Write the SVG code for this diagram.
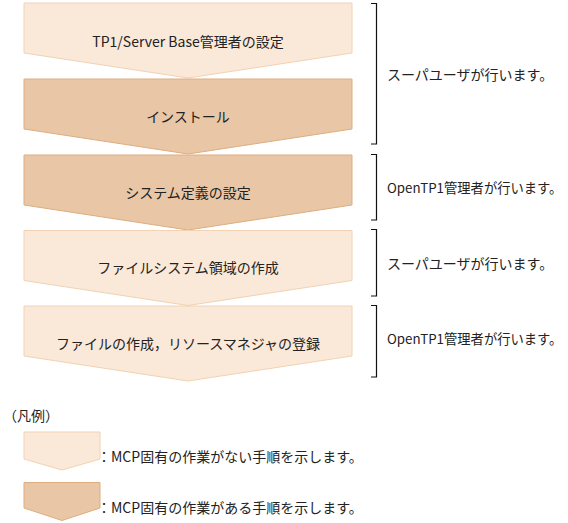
<svg xmlns="http://www.w3.org/2000/svg" width="568" height="523" viewBox="0 0 568 523">
<defs>
<style>
.light{fill:#FAE8D8;stroke:#F2D2B2;stroke-width:1}
.dark{fill:#E8C6A6;stroke:#DEAD80;stroke-width:1}
.lbl{font-family:"Noto Sans CJK JP","Noto Sans",sans-serif;font-size:14px;fill:#222;dominant-baseline:central}
.sm{font-size:13.3px}
.mid{text-anchor:middle}
.br{fill:none;stroke:#111;stroke-width:1.2}
</style>
</defs>
<rect width="568" height="523" fill="#fff"/>
<g id="step1">
<polygon class="light" points="24,3 352,3 352,53 188,78 24,53"/>
<text class="lbl mid" x="188" y="41">TP1/Server Base管理者の設定</text>
</g>
<g id="step2">
<polygon class="dark" points="24,79 352,79 352,129 188,154 24,129"/>
<text class="lbl mid" x="188" y="116">インストール</text>
</g>
<g id="step3">
<polygon class="dark" points="24,155 352,155 352,205 188,230 24,205"/>
<text class="lbl mid" x="188" y="191.5">システム定義の設定</text>
</g>
<g id="step4">
<polygon class="light" points="24,230.5 352,230.5 352,280.5 188,305.5 24,280.5"/>
<text class="lbl mid" x="188" y="267">ファイルシステム領域の作成</text>
</g>
<g id="step5">
<polygon class="light" points="24,306 352,306 352,356 188,381 24,356"/>
<text class="lbl mid" x="188" y="342.5">ファイルの作成，リソースマネジャの登録</text>
</g>
<g id="connectors">
<polyline class="br" points="371,3.5 376.5,3.5 376.5,144 371,144"/>
<polyline class="br" points="371,154.5 376.5,154.5 376.5,220 371,220"/>
<polyline class="br" points="371,229.5 376.5,229.5 376.5,296 371,296"/>
<polyline class="br" points="371,305.5 376.5,305.5 376.5,377 371,377"/>
</g>
<g id="notes">
<text class="lbl" x="387" y="74">スーパユーザが行います。</text>
<text class="lbl sm" x="387" y="187">OpenTP1管理者が行います。</text>
<text class="lbl" x="387" y="262.5">スーパユーザが行います。</text>
<text class="lbl sm" x="387" y="338">OpenTP1管理者が行います。</text>
</g>
<g id="legend">
<text class="lbl" x="3" y="415">（凡例）</text>
<g id="legend-light">
<polygon class="light" points="24,432 100,432 100,459 62,470 24,459"/>
<text class="lbl" x="97" y="456">：MCP固有の作業がない手順を示します。</text>
</g>
<g id="legend-dark">
<polygon class="dark" points="24,482.5 100,482.5 100,508 62,520.5 24,508"/>
<text class="lbl" x="97" y="507">：MCP固有の作業がある手順を示します。</text>
</g>
</g>
</svg>
